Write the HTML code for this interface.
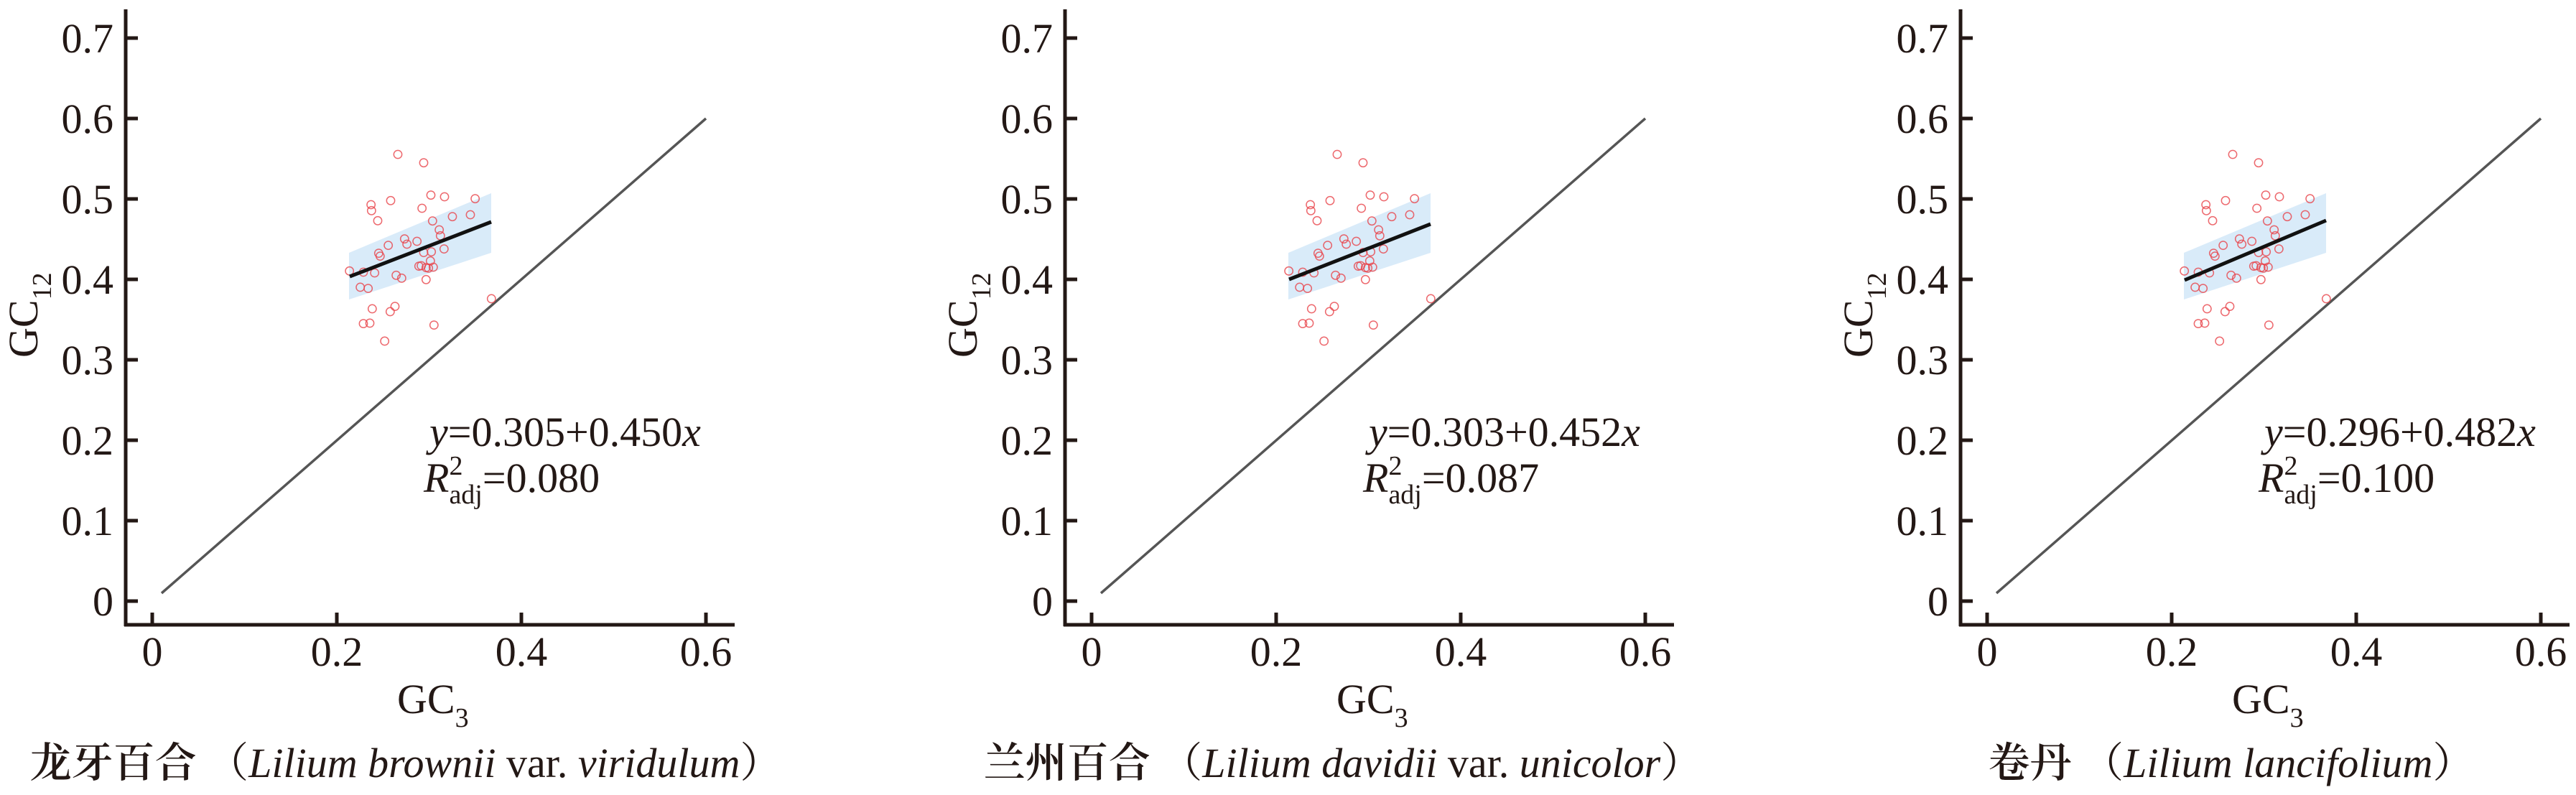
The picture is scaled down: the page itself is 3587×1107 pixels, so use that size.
<!DOCTYPE html>
<html><head><meta charset="utf-8"><style>
html,body{margin:0;padding:0;background:#fff;}
svg{display:block;}
text{font-family:"Liberation Serif","Noto Serif CJK SC",serif;fill:#231815;}
</style></head><body>
<svg width="3587" height="1107" viewBox="0 0 3587 1107" xmlns="http://www.w3.org/2000/svg">
<defs>
<g id="pts" fill="none" stroke="#e8434a" stroke-opacity="0.8" stroke-width="4.5">
<circle cx="342" cy="105" r="17"/><circle cx="450" cy="140" r="17"/><circle cx="480" cy="275" r="17"/><circle cx="537" cy="282" r="17"/><circle cx="665" cy="290" r="17"/><circle cx="312" cy="298" r="17"/><circle cx="230" cy="315" r="17"/><circle cx="232" cy="340" r="17"/><circle cx="443" cy="330" r="17"/><circle cx="258" cy="382" r="17"/><circle cx="570" cy="365" r="17"/><circle cx="645" cy="357" r="17"/><circle cx="487" cy="383" r="17"/><circle cx="515" cy="420" r="17"/><circle cx="370" cy="458" r="17"/><circle cx="422" cy="468" r="17"/><circle cx="302" cy="485" r="17"/><circle cx="535" cy="500" r="17"/><circle cx="482" cy="512" r="17"/><circle cx="520" cy="445" r="17"/><circle cx="262" cy="518" r="17"/><circle cx="268" cy="530" r="17"/><circle cx="140" cy="592" r="17"/><circle cx="198" cy="597" r="17"/><circle cx="245" cy="600" r="17"/><circle cx="430" cy="572" r="17"/><circle cx="460" cy="578" r="17"/><circle cx="490" cy="576" r="17"/><circle cx="478" cy="550" r="17"/><circle cx="335" cy="610" r="17"/><circle cx="358" cy="622" r="17"/><circle cx="460" cy="628" r="17"/><circle cx="185" cy="660" r="17"/><circle cx="218" cy="665" r="17"/><circle cx="235" cy="750" r="17"/><circle cx="310" cy="762" r="17"/><circle cx="330" cy="740" r="17"/><circle cx="198" cy="812" r="17"/><circle cx="225" cy="810" r="17"/><circle cx="493" cy="818" r="17"/><circle cx="287" cy="885" r="17"/><circle cx="733" cy="708" r="17"/><circle cx="380" cy="480" r="17"/><circle cx="450" cy="515" r="17"/><circle cx="470" cy="580" r="17"/><circle cx="440" cy="570" r="17"/>
</g>
<g id="axes">
<line x1="175" y1="13" x2="175" y2="872" stroke="#231815" stroke-width="5"/>
<line x1="173" y1="870" x2="1023" y2="870" stroke="#231815" stroke-width="5"/>
<g stroke="#231815" stroke-width="5">
<line x1="175" y1="53" x2="192" y2="53"/><line x1="175" y1="165" x2="192" y2="165"/><line x1="175" y1="277" x2="192" y2="277"/><line x1="175" y1="389" x2="192" y2="389"/><line x1="175" y1="501" x2="192" y2="501"/><line x1="175" y1="613" x2="192" y2="613"/><line x1="175" y1="725" x2="192" y2="725"/><line x1="175" y1="837" x2="192" y2="837"/>
<line x1="212" y1="870" x2="212" y2="853"/><line x1="469" y1="870" x2="469" y2="853"/><line x1="726" y1="870" x2="726" y2="853"/><line x1="983" y1="870" x2="983" y2="853"/>
</g>
<g font-size="58" text-anchor="end">
<text x="158" y="73">0.7</text><text x="158" y="185">0.6</text><text x="158" y="297">0.5</text><text x="158" y="409">0.4</text><text x="158" y="521">0.3</text><text x="158" y="633">0.2</text><text x="158" y="745">0.1</text><text x="158" y="857">0</text>
</g>
<g font-size="58" text-anchor="middle">
<text x="212" y="927">0</text><text x="469" y="927">0.2</text><text x="726" y="927">0.4</text><text x="983" y="927">0.6</text>
</g>
<text x="553" y="993" font-size="58">GC<tspan font-size="38" dy="19">3</tspan></text>
<text transform="translate(52,498) rotate(-90)" font-size="58">GC<tspan font-size="38" dy="19">12</tspan></text>
<line x1="225" y1="826" x2="983" y2="165" stroke="#555" stroke-width="3.5"/>
<polygon points="486,352 684,269 684,352 486,417" fill="#cfe6f8" fill-opacity="0.8"/>
<use href="#pts" transform="translate(440,180) scale(0.3333)"/>
</g>
</defs>

<!-- Panel 1 -->
<use href="#axes"/>
<line x1="487" y1="385" x2="684" y2="309" stroke="#111" stroke-width="5"/>
<text x="598" y="621" font-size="58"><tspan font-style="italic">y</tspan>=0.305+0.450<tspan font-style="italic">x</tspan></text>
<text x="590" y="685" font-size="58"><tspan font-style="italic">R</tspan><tspan font-size="38" dy="-24">2</tspan><tspan font-size="38" dx="-19" dy="40">adj</tspan><tspan dy="-16">=0.080</tspan></text>
<text x="565" y="1082" font-size="58" text-anchor="middle"><tspan font-family="'Noto Serif CJK SC',serif" font-weight="600">龙牙百合</tspan> <tspan font-family="'Noto Serif CJK SC',serif">（</tspan><tspan font-style="italic">Lilium brownii</tspan> var. <tspan font-style="italic">viridulum</tspan><tspan font-family="'Noto Serif CJK SC',serif">）</tspan></text>

<!-- Panel 2 -->
<g transform="translate(1308,0)">
<use href="#axes"/>
<line x1="487" y1="389" x2="684" y2="312" stroke="#111" stroke-width="5"/>
<text x="598" y="621" font-size="58"><tspan font-style="italic">y</tspan>=0.303+0.452<tspan font-style="italic">x</tspan></text>
<text x="590" y="685" font-size="58"><tspan font-style="italic">R</tspan><tspan font-size="38" dy="-24">2</tspan><tspan font-size="38" dx="-19" dy="40">adj</tspan><tspan dy="-16">=0.087</tspan></text>
</g>
<text x="1870" y="1082" font-size="58" text-anchor="middle"><tspan font-family="'Noto Serif CJK SC',serif" font-weight="600">兰州百合</tspan> <tspan font-family="'Noto Serif CJK SC',serif">（</tspan><tspan font-style="italic">Lilium davidii</tspan> var. <tspan font-style="italic">unicolor</tspan><tspan font-family="'Noto Serif CJK SC',serif">）</tspan></text>

<!-- Panel 3 -->
<g transform="translate(2555,0)">
<use href="#axes"/>
<line x1="487" y1="390" x2="684" y2="307" stroke="#111" stroke-width="5"/>
<text x="598" y="621" font-size="58"><tspan font-style="italic">y</tspan>=0.296+0.482<tspan font-style="italic">x</tspan></text>
<text x="590" y="685" font-size="58"><tspan font-style="italic">R</tspan><tspan font-size="38" dy="-24">2</tspan><tspan font-size="38" dx="-19" dy="40">adj</tspan><tspan dy="-16">=0.100</tspan></text>
</g>
<text x="3107" y="1082" font-size="58" text-anchor="middle"><tspan font-family="'Noto Serif CJK SC',serif" font-weight="600">卷丹</tspan> <tspan font-family="'Noto Serif CJK SC',serif">（</tspan><tspan font-style="italic">Lilium lancifolium</tspan><tspan font-family="'Noto Serif CJK SC',serif">）</tspan></text>
</svg>
</body></html>
